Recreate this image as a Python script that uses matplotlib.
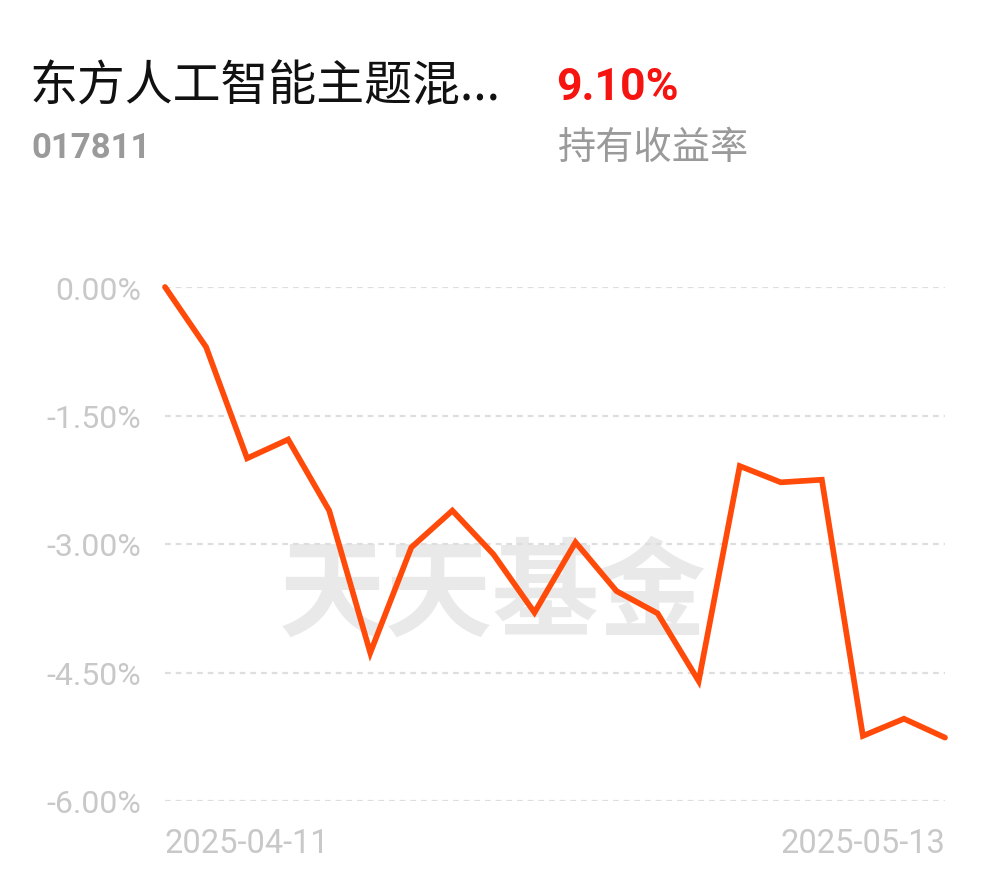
import matplotlib
matplotlib.use('Agg')
import matplotlib.pyplot as plt
import numpy as np

# fund header
fund_name = '东方人工智能主题混...'
fund_code = '017811'
hold_return = '9.10%'
hold_label = '持有收益率'

# daily returns (%), 20 trading days
dates = ['2025-04-11', '2025-04-14', '2025-04-15', '2025-04-16', '2025-04-17',
         '2025-04-18', '2025-04-21', '2025-04-22', '2025-04-23', '2025-04-24',
         '2025-04-25', '2025-04-28', '2025-04-29', '2025-04-30', '2025-05-06',
         '2025-05-07', '2025-05-08', '2025-05-09', '2025-05-12', '2025-05-13']
returns = [0.00, -0.70, -2.00, -1.78, -2.61, -4.27, -3.04, -2.61, -3.12, -3.80,
           -2.98, -3.55, -3.81, -4.60, -2.09, -2.28, -2.25, -5.24, -5.04, -5.26]
y_ticks = [0.0, -1.5, -3.0, -4.5, -6.0]
y_labels = ['0.00%', '-1.50%', '-3.00%', '-4.50%', '-6.00%']

num_font = ['Roboto', 'DejaVu Sans']
cjk_font = ['Noto Sans CJK SC', 'DejaVu Sans']

W, H = 990, 878
fig = plt.figure(figsize=(W / 100, H / 100), dpi=100)
fig.patch.set_facecolor('white')

# header texts
fig.text(30 / W, 1 - 86 / H, fund_name, family=cjk_font, fontsize=34.5,
         color='#111111', ha='left', va='center')
fig.text(556 / W, 1 - 88 / H, hold_return, family=num_font, fontsize=32,
         fontweight='bold', color='#f5140f', ha='left', va='center')
fig.text(31 / W, 1 - 148 / H, fund_code, family=num_font, fontsize=25,
         fontweight='bold', color='#9a9a9a', ha='left', va='center')
fig.text(558 / W, 1 - 148 / H, hold_label, family=cjk_font, fontsize=27.5,
         color='#9a9a9a', ha='left', va='center')

# plot area
ax = fig.add_axes([165 / W, 1 - 802 / H, 780 / W, 514 / H])
x = np.arange(len(dates))

# watermark
ax.text(0.42, 0.40, '天天基金', transform=ax.transAxes, family=cjk_font,
        fontsize=77, fontweight='bold', color='#e9e9e9', ha='center',
        va='center', zorder=0)

for t in y_ticks:
    ax.axhline(t, color='#dedede', lw=1.6, dashes=(2.6, 2.2), zorder=1)

ax.plot(x, returns, color='#ff4a0a', lw=4.1, solid_joinstyle='miter',
        solid_capstyle='round', zorder=3, clip_on=False)

ax.set_xlim(0, len(dates) - 1)
ax.set_ylim(-6.0, 0.0)
ax.set_yticks(y_ticks)
ax.set_yticklabels(y_labels, family=num_font, fontsize=23, color='#c8c8c8')
ax.set_xticks([0, len(dates) - 1])
ax.set_xticklabels([dates[0], dates[-1]], family=num_font, fontsize=23.5,
                   color='#c8c8c8')
labs = ax.get_xticklabels()
labs[0].set_ha('left')
labs[1].set_ha('right')
ax.tick_params(axis='y', length=0, pad=17)
ax.tick_params(axis='x', length=0, pad=19)
for s in ax.spines.values():
    s.set_visible(False)
ax.set_facecolor('none')

fig.savefig('out.png', dpi=100)
